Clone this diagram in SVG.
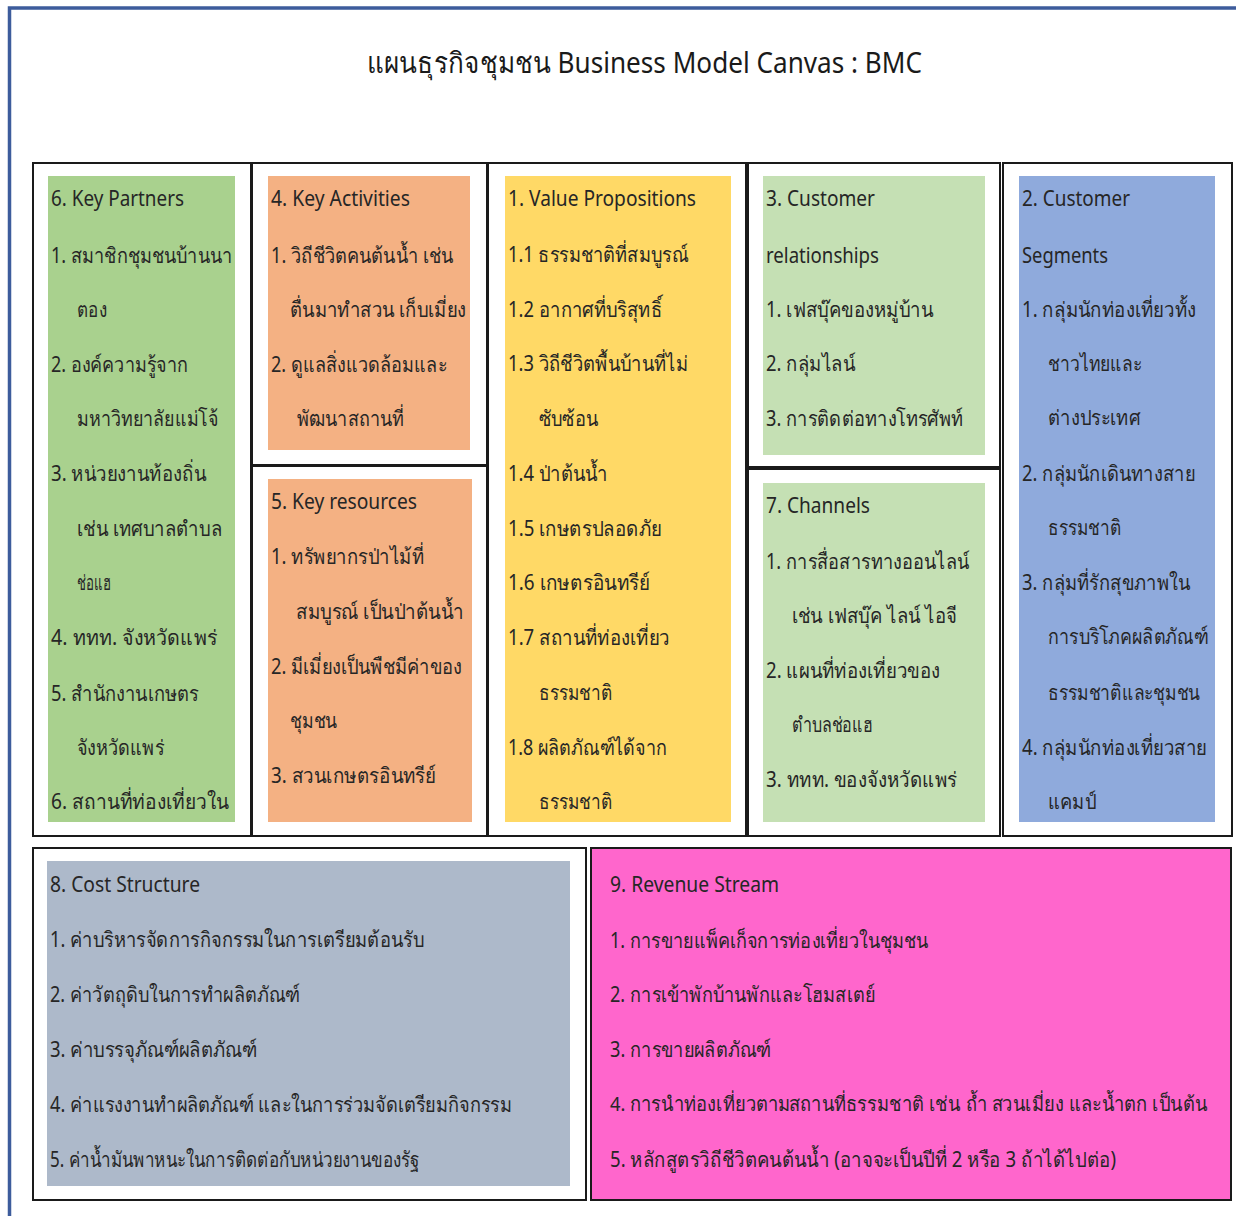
<svg xmlns="http://www.w3.org/2000/svg" width="1236" height="1216" viewBox="0 0 1236 1216">
<style>
text{font-family:"Noto Sans","Liberation Sans","DejaVu Sans",sans-serif;font-size:21px;fill:#262626}
.title{font-size:29px;fill:#1a1a1a}
.sm{font-size:20px}
.frame{fill:#fff;stroke:#1a1a1a;stroke-width:2}
</style>
<rect x="0" y="0" width="1236" height="1216" fill="#fff"/>
<path d="M9.5,1216 V8 H1236" fill="none" stroke="#3d5c9c" stroke-width="3.5"/>
<text class="title" x="367" y="73" textLength="555" lengthAdjust="spacingAndGlyphs">แผนธุรกิจชุมชน Business Model Canvas : BMC</text>

<g id="key-partners">
<rect class="frame" x="33" y="163" width="218" height="673"/>
<rect x="48" y="176" width="187" height="646" fill="#a9d18e"/>
<text x="51" y="206" textLength="133" lengthAdjust="spacingAndGlyphs">6. Key Partners</text>
<text x="51" y="263" textLength="181" lengthAdjust="spacingAndGlyphs">1. สมาชิกชุมชนบ้านนา</text>
<text x="77" y="317" textLength="30" lengthAdjust="spacingAndGlyphs">ตอง</text>
<text x="51" y="372" textLength="137" lengthAdjust="spacingAndGlyphs">2. องค์ความรู้จาก</text>
<text x="77" y="426" textLength="141" lengthAdjust="spacingAndGlyphs">มหาวิทยาลัยแม่โจ้</text>
<text x="51" y="481" textLength="155" lengthAdjust="spacingAndGlyphs">3. หน่วยงานท้องถิ่น</text>
<text x="77" y="536" textLength="145" lengthAdjust="spacingAndGlyphs">เช่น เทศบาลตำบล</text>
<text x="77" y="590" textLength="34" lengthAdjust="spacingAndGlyphs">ช่อแฮ</text>
<text x="51" y="645" textLength="166" lengthAdjust="spacingAndGlyphs">4.  ททท. จังหวัดแพร่</text>
<text x="51" y="701" textLength="148" lengthAdjust="spacingAndGlyphs">5. สำนักงานเกษตร</text>
<text x="77" y="755" textLength="87" lengthAdjust="spacingAndGlyphs">จังหวัดแพร่</text>
<text x="51" y="809" textLength="178" lengthAdjust="spacingAndGlyphs">6.  สถานที่ท่องเที่ยวใน</text>
</g>

<g id="key-activities">
<rect class="frame" x="252" y="163" width="235" height="302"/>
<rect x="268" y="176" width="202" height="274" fill="#f4b183"/>
<text x="271" y="206" textLength="139" lengthAdjust="spacingAndGlyphs">4. Key Activities</text>
<text x="271" y="263" textLength="182" lengthAdjust="spacingAndGlyphs">1. วิถีชีวิตคนต้นน้ำ เช่น</text>
<text x="290" y="317" textLength="176" lengthAdjust="spacingAndGlyphs">ตื่นมาทำสวน เก็บเมี่ยง</text>
<text x="271" y="372" textLength="176" lengthAdjust="spacingAndGlyphs">2. ดูแลสิ่งแวดล้อมและ</text>
<text x="297" y="426" textLength="107" lengthAdjust="spacingAndGlyphs">พัฒนาสถานที่</text>
</g>

<g id="key-resources">
<rect class="frame" x="252" y="466" width="235" height="370"/>
<rect x="268" y="479" width="204" height="343" fill="#f4b183"/>
<text x="271" y="509" textLength="146" lengthAdjust="spacingAndGlyphs">5. Key resources</text>
<text x="271" y="564" textLength="153" lengthAdjust="spacingAndGlyphs">1. ทรัพยากรป่าไม้ที่</text>
<text x="296" y="619" textLength="168" lengthAdjust="spacingAndGlyphs">สมบูรณ์ เป็นป่าต้นน้ำ</text>
<text x="271" y="674" textLength="191" lengthAdjust="spacingAndGlyphs">2. มีเมี่ยงเป็นพืชมีค่าของ</text>
<text x="290" y="728" textLength="47" lengthAdjust="spacingAndGlyphs">ชุมชน</text>
<text x="271" y="783" textLength="165" lengthAdjust="spacingAndGlyphs">3. สวนเกษตรอินทรีย์</text>
</g>

<g id="value-propositions">
<rect class="frame" x="488" y="163" width="258" height="673"/>
<rect x="505" y="176" width="226" height="646" fill="#ffd966"/>
<text x="508" y="206" textLength="188" lengthAdjust="spacingAndGlyphs">1. Value Propositions</text>
<text x="508" y="262" textLength="180" lengthAdjust="spacingAndGlyphs">1.1 ธรรมชาติที่สมบูรณ์</text>
<text x="508" y="317" textLength="154" lengthAdjust="spacingAndGlyphs">1.2 อากาศที่บริสุทธิ์</text>
<text x="508" y="371" textLength="180" lengthAdjust="spacingAndGlyphs">1.3 วิถีชีวิตพื้นบ้านที่ไม่</text>
<text x="539" y="426" textLength="59" lengthAdjust="spacingAndGlyphs">ซับซ้อน</text>
<text x="508" y="481" textLength="100" lengthAdjust="spacingAndGlyphs">1.4 ป่าต้นน้ำ</text>
<text x="508" y="536" textLength="154" lengthAdjust="spacingAndGlyphs">1.5 เกษตรปลอดภัย</text>
<text x="508" y="590" textLength="142" lengthAdjust="spacingAndGlyphs">1.6 เกษตรอินทรีย์</text>
<text x="508" y="645" textLength="162" lengthAdjust="spacingAndGlyphs">1.7 สถานที่ท่องเที่ยว</text>
<text x="539" y="700" textLength="73" lengthAdjust="spacingAndGlyphs">ธรรมชาติ</text>
<text x="508" y="755" textLength="159" lengthAdjust="spacingAndGlyphs">1.8 ผลิตภัณฑ์ได้จาก</text>
<text x="539" y="809" textLength="73" lengthAdjust="spacingAndGlyphs">ธรรมชาติ</text>
</g>

<g id="customer-relationships">
<rect class="frame" x="748" y="163" width="252" height="304"/>
<rect x="763" y="176" width="222" height="279" fill="#c5e0b4"/>
<text x="766" y="206" textLength="109" lengthAdjust="spacingAndGlyphs">3. Customer</text>
<text x="766" y="263" textLength="113" lengthAdjust="spacingAndGlyphs">relationships</text>
<text x="766" y="317" textLength="167" lengthAdjust="spacingAndGlyphs">1. เฟสบุ๊คของหมู่บ้าน</text>
<text x="766" y="371" textLength="89" lengthAdjust="spacingAndGlyphs">2. กลุ่มไลน์</text>
<text x="766" y="426" textLength="197" lengthAdjust="spacingAndGlyphs">3. การติดต่อทางโทรศัพท์</text>
</g>

<g id="channels">
<rect class="frame" x="748" y="469" width="252" height="367"/>
<rect x="763" y="483" width="222" height="339" fill="#c5e0b4"/>
<text x="766" y="513" textLength="104" lengthAdjust="spacingAndGlyphs">7. Channels</text>
<text x="766" y="569" textLength="203" lengthAdjust="spacingAndGlyphs">1. การสื่อสารทางออนไลน์</text>
<text x="792" y="623" textLength="165" lengthAdjust="spacingAndGlyphs">เช่น เฟสบุ๊ค ไลน์ ไอจี</text>
<text x="766" y="678" textLength="174" lengthAdjust="spacingAndGlyphs">2. แผนที่ท่องเที่ยวของ</text>
<text x="792" y="732" textLength="81" lengthAdjust="spacingAndGlyphs">ตำบลช่อแฮ</text>
<text x="766" y="787" textLength="191" lengthAdjust="spacingAndGlyphs">3. ททท. ของจังหวัดแพร่</text>
</g>

<g id="customer-segments">
<rect class="frame" x="1003" y="163" width="229" height="673"/>
<rect x="1019" y="176" width="196" height="646" fill="#8faadc"/>
<text x="1022" y="206" textLength="108" lengthAdjust="spacingAndGlyphs">2. Customer</text>
<text x="1022" y="263" textLength="86" lengthAdjust="spacingAndGlyphs">Segments</text>
<text x="1022" y="317" textLength="174" lengthAdjust="spacingAndGlyphs">1. กลุ่มนักท่องเที่ยวทั้ง</text>
<text x="1048" y="371" textLength="94" lengthAdjust="spacingAndGlyphs">ชาวไทยและ</text>
<text x="1048" y="425" textLength="92" lengthAdjust="spacingAndGlyphs">ต่างประเทศ</text>
<text x="1022" y="481" textLength="173" lengthAdjust="spacingAndGlyphs">2. กลุ่มนักเดินทางสาย</text>
<text x="1048" y="535" textLength="73" lengthAdjust="spacingAndGlyphs">ธรรมชาติ</text>
<text x="1022" y="590" textLength="168" lengthAdjust="spacingAndGlyphs">3. กลุ่มที่รักสุขภาพใน</text>
<text x="1048" y="644" textLength="160" lengthAdjust="spacingAndGlyphs">การบริโภคผลิตภัณฑ์</text>
<text x="1048" y="700" textLength="152" lengthAdjust="spacingAndGlyphs">ธรรมชาติและชุมชน</text>
<text x="1022" y="755" textLength="185" lengthAdjust="spacingAndGlyphs">4. กลุ่มนักท่องเที่ยวสาย</text>
<text x="1048" y="809" textLength="48" lengthAdjust="spacingAndGlyphs">แคมป์</text>
</g>

<g id="cost-structure">
<rect class="frame" x="33" y="848" width="553" height="352"/>
<rect x="47" y="861" width="523" height="325" fill="#adb9ca"/>
<text x="50" y="892" textLength="150" lengthAdjust="spacingAndGlyphs">8. Cost Structure</text>
<text x="50" y="947" textLength="374" lengthAdjust="spacingAndGlyphs">1. ค่าบริหารจัดการกิจกรรมในการเตรียมต้อนรับ</text>
<text x="50" y="1002" textLength="250" lengthAdjust="spacingAndGlyphs">2. ค่าวัตถุดิบในการทำผลิตภัณฑ์</text>
<text x="50" y="1057" textLength="207" lengthAdjust="spacingAndGlyphs">3. ค่าบรรจุภัณฑ์ผลิตภัณฑ์</text>
<text x="50" y="1112" textLength="462" lengthAdjust="spacingAndGlyphs">4. ค่าแรงงานทำผลิตภัณฑ์ และในการร่วมจัดเตรียมกิจกรรม</text>
<text x="50" y="1167" textLength="370" lengthAdjust="spacingAndGlyphs">5. ค่าน้ำมันพาหนะในการติดต่อกับหน่วยงานของรัฐ</text>
</g>

<g id="revenue-stream">
<rect x="591" y="848" width="640" height="352" fill="#ff66cc" stroke="#1a1a1a" stroke-width="2"/>
<text x="610" y="892" textLength="169" lengthAdjust="spacingAndGlyphs">9. Revenue Stream</text>
<text x="610" y="948" textLength="318" lengthAdjust="spacingAndGlyphs">1. การขายแพ็คเก็จการท่องเที่ยวในชุมชน</text>
<text x="610" y="1002" textLength="265" lengthAdjust="spacingAndGlyphs">2. การเข้าพักบ้านพักและโฮมสเตย์</text>
<text x="610" y="1057" textLength="161" lengthAdjust="spacingAndGlyphs">3. การขายผลิตภัณฑ์</text>
<text class="sm" x="610" y="1111" textLength="598" lengthAdjust="spacingAndGlyphs">4. การนำท่องเที่ยวตามสถานที่ธรรมชาติ เช่น ถ้ำ สวนเมี่ยง และน้ำตก เป็นต้น</text>
<text x="610" y="1167" textLength="506" lengthAdjust="spacingAndGlyphs">5. หลักสูตรวิถีชีวิตคนต้นน้ำ (อาจจะเป็นปีที่ 2 หรือ 3 ถ้าได้ไปต่อ)</text>
</g>

<g id="connectors"></g>
</svg>
